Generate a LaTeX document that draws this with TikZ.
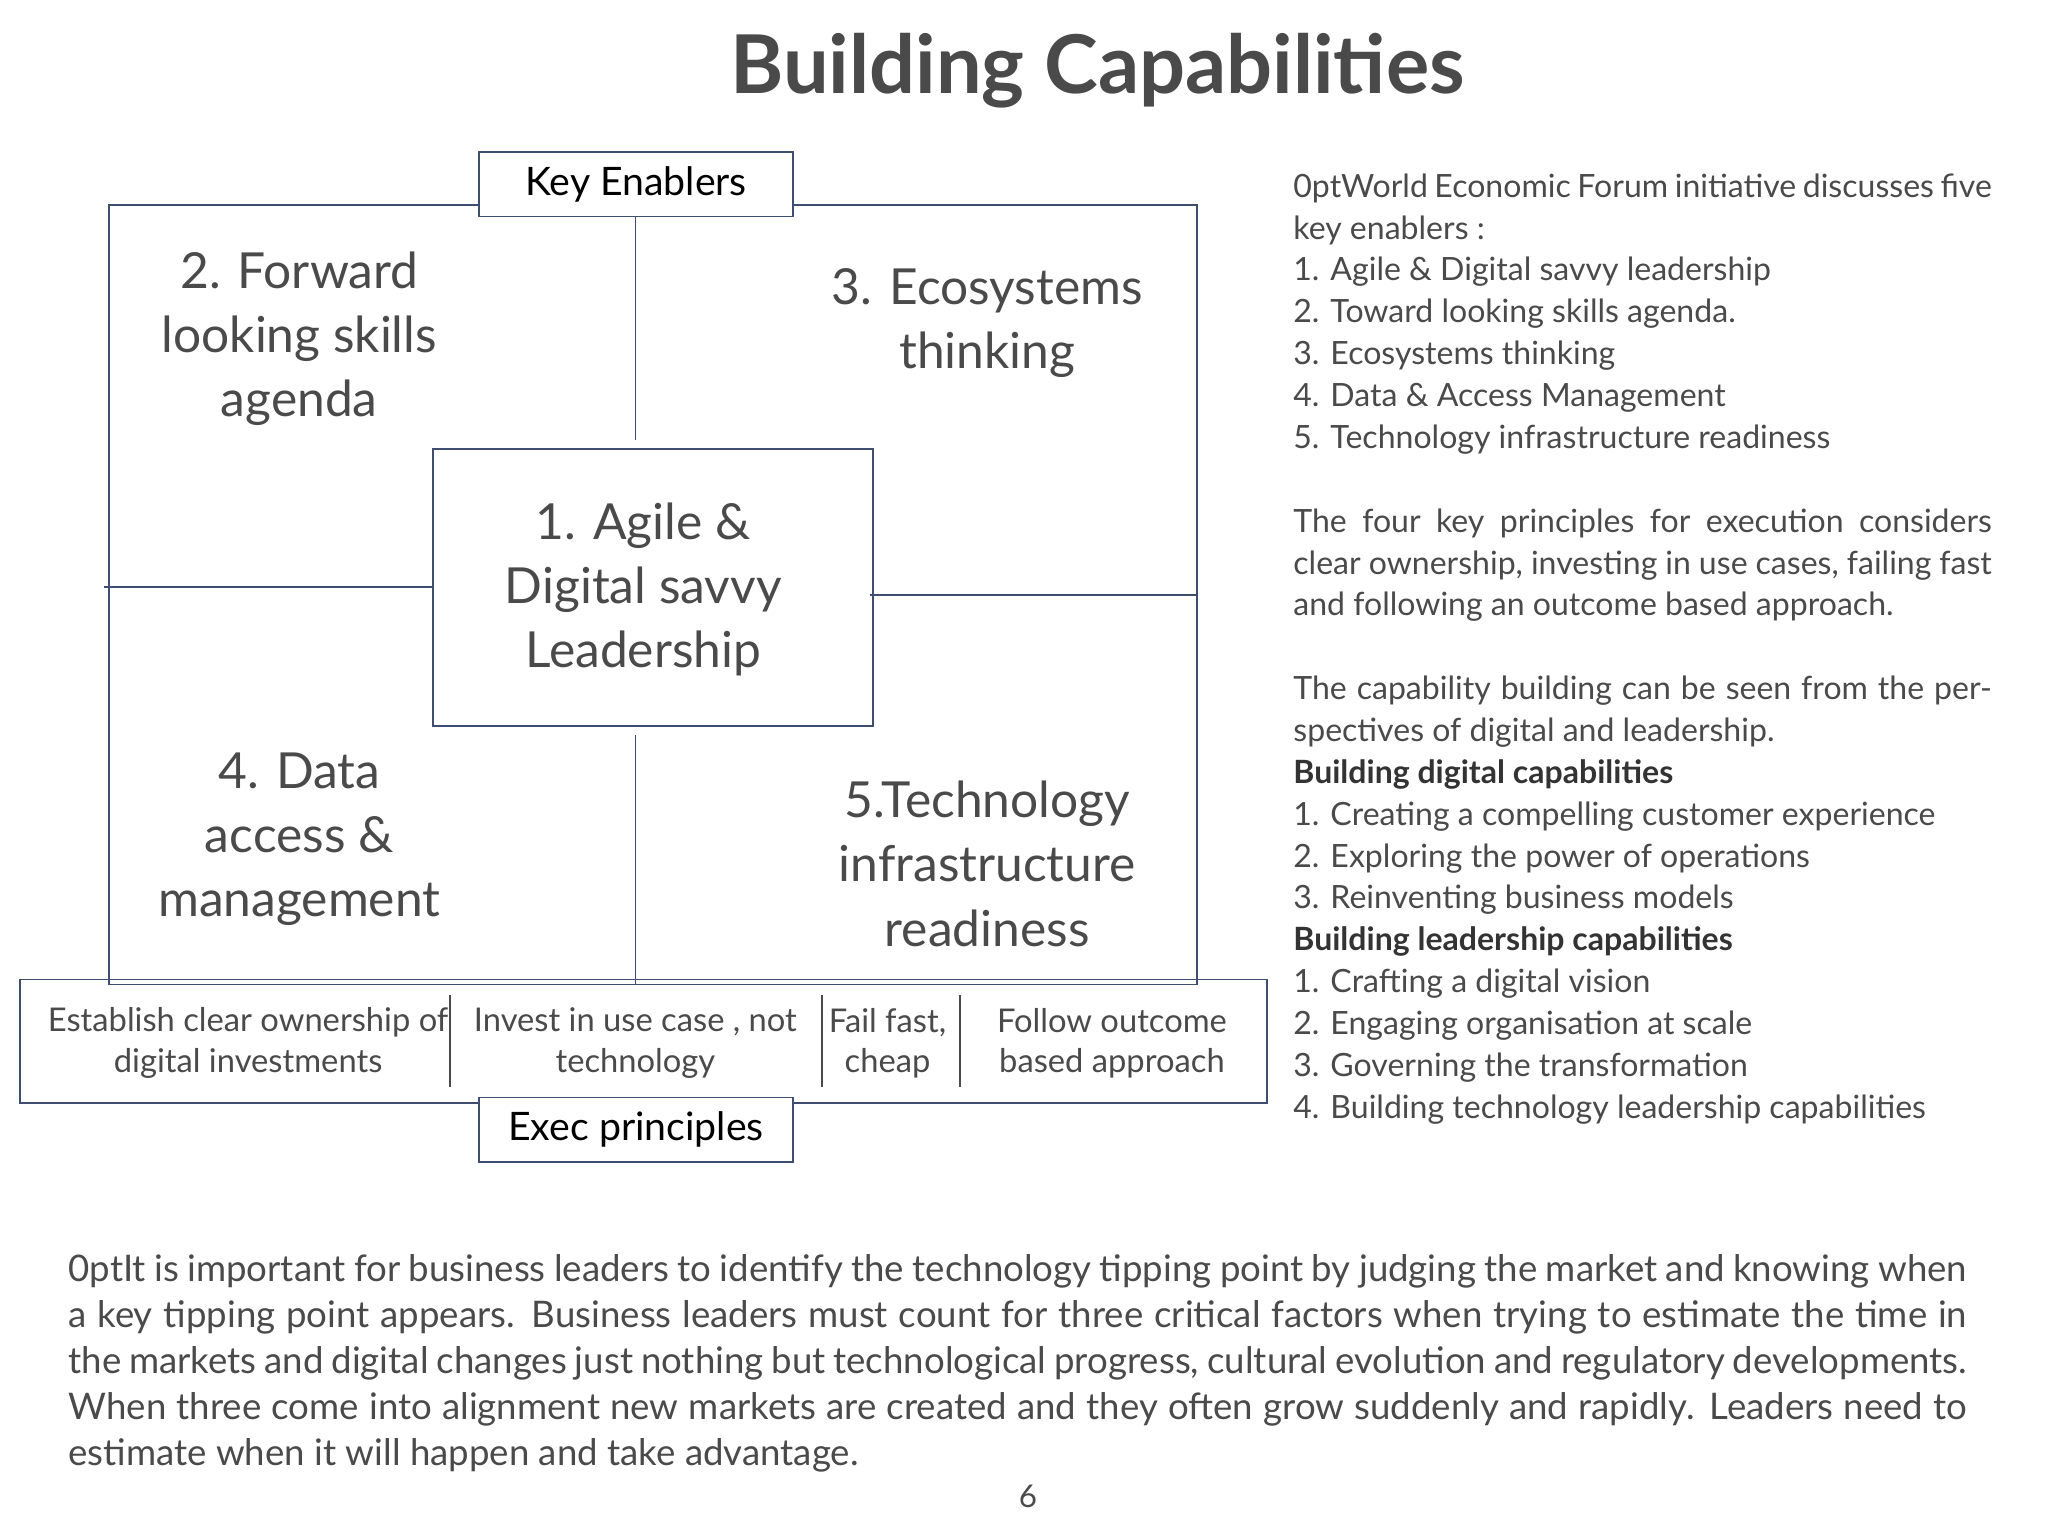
\documentclass[tikz,border=0pt]{standalone}
\usepackage{fontspec}
\setmainfont{Lato}
\definecolor{tx}{HTML}{4A4A4A}
\definecolor{bx}{HTML}{3E4E70}
\begin{document}
\begin{tikzpicture}[x=1bp,y=-1bp,
  ln/.style={draw=bx,line width=1.3bp},
  big/.style={text=tx,align=center,font=\fontsize{38}{49}\selectfont,inner sep=0},
  sm/.style={text=tx,align=center,font=\fontsize{25}{31}\selectfont,inner sep=0},
  lab/.style={draw=bx,line width=1.3bp,minimum width=239bp,minimum height=49bp,text=black,font=\fontsize{30}{36}\selectfont,inner sep=0}]
\useasboundingbox (0,0) rectangle (1560,1170);
\fill[white] (0,0) rectangle (1560,1170);
\node[text=tx,font=\fontsize{62}{66}\selectfont\bfseries] (title) at (836,54) {Building Capabilities};
\draw[ln] (83,156) rectangle (912,750);
\node[ln,minimum width=335bp,minimum height=211bp] (ctr) at (497.5,447.5) {};
\node[big] at (490,449) {1. Agile \&\\Digital savvy\\Leadership};
\node[lab,fill=white] (ke) at (484.5,140.5) {Key Enablers};
\coordinate (t1) at (484,165); \coordinate (t2) at (484,335);
\draw[ln] (t1) -- (t2);
\coordinate (l1) at (79,447); \draw[ln] (l1) -- (ctr.west |- l1);
\coordinate (r1) at (912,453); \coordinate (r0) at (663,453); \draw[ln] (r0) -- (r1);
\coordinate (b1) at (484,560); \coordinate (b2) at (484,750); \draw[ln] (b1) -- (b2);
\node[big] at (228,258) {2. Forward\\looking skills\\agenda};
\node[big] at (752,246) {3. Ecosystems\\thinking};
\node[big] at (228,639) {4. Data\\access \&\\management};
\node[big] at (752,658) {5.Technology\\infrastructure\\readiness};
\draw[ln] (15,746) rectangle (965,840);
\foreach \x in {343,626,731} \draw[line width=1.5bp,draw=tx] (\x,758) -- (\x,828);
\node[sm] at (189,794.5) {Establish clear ownership of\\digital investments};
\node[sm] at (484,794.5) {Invest in use case , not\\technology};
\node[sm] at (676,794.5) {Fail fast,\\cheap};
\node[sm] at (847,794.5) {Follow outcome\\based approach};
\node[lab,fill=white] (ep) at (484.5,860.5) {Exec principles};
\node[anchor=north west,text width=532bp,align=justify,text=tx,inner sep=0,
  font=\fontsize{24.5}{32}\selectfont\hyphenpenalty=10000\exhyphenpenalty=10000] (rt) at (985,132) {%
World Economic Forum initiative discusses five key enablers :\\
1. Agile \& Digital savvy leadership\\
2. Toward looking skills agenda.\\
3. Ecosystems thinking\\
4. Data \& Access Management\\
5. Technology infrastructure readiness\par\vspace{32bp}
The four key principles for execution considers clear ownership, investing in use cases, failing fast and following an outcome based approach.\par\vspace{32bp}
The capability building can be seen from the perspectives of digital and leadership.\\
{\bfseries\color{black!80}Building digital capabilities}\\
1. Creating a compelling customer experience\\
2. Exploring the power of operations\\
3. Reinventing business models\\
{\bfseries\color{black!80}Building leadership capabilities}\\
1. Crafting a digital vision\\
2. Engaging organisation at scale\\
3. Governing the transformation\\
4. Building technology leadership capabilities};
\node[anchor=north west,text width=1446bp,align=justify,text=tx,inner sep=0,
  font=\fontsize{28}{35.3}\selectfont\hyphenpenalty=10000] (bt) at (52,955) {It is important for business leaders to identify the technology tipping point by judging the market and knowing when a key tipping point appears. Business leaders must count for three critical factors when trying to estimate the time in the markets and digital changes just nothing but technological progress, cultural evolution and regulatory developments. When three come into alignment new markets are created and they often grow suddenly and rapidly. Leaders need to estimate when it will happen and take advantage.};
\node[text=tx,font=\fontsize{24}{28}\selectfont] (pg) at (783,1140) {6};
\end{tikzpicture}
\end{document}
